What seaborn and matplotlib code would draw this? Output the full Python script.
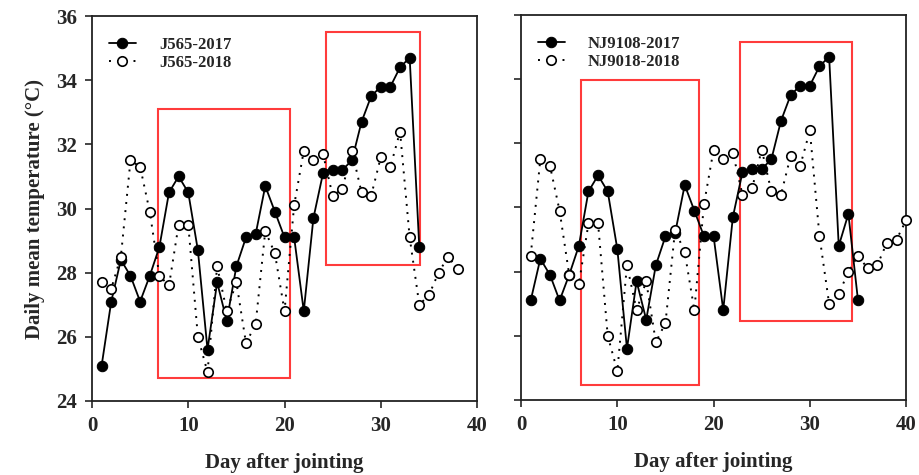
import matplotlib
matplotlib.use("Agg")
import matplotlib.pyplot as plt
from matplotlib.patches import Rectangle
import numpy as np
import seaborn as sns

# values
j565_2017 = [25.1, 27.1, 28.4, 27.9, 27.1, 27.9, 28.8, 30.5, 31.0, 30.5, 28.7, 25.6,
             27.7, 26.5, 28.2, 29.1, 29.2, 30.7, 29.9, 29.1, 29.1, 26.8, 29.7, 31.1,
             31.2, 31.2, 31.5, 32.7, 33.5, 33.8, 33.8, 34.4, 34.7, 28.8]
j565_2018 = [27.7, 27.5, 28.5, 31.5, 31.3, 29.9, 27.9, 27.6, 29.5, 29.5, 26.0, 24.9,
             28.2, 26.8, 27.7, 25.8, 26.4, 29.3, 28.6, 26.8, 30.1, 31.8, 31.5, 31.7,
             30.4, 30.6, 31.8, 30.5, 30.4, 31.6, 31.3, 32.4, 29.1, 27.0, 27.3, 28.0,
             28.5, 28.1]
nj9108_2017 = [27.1, 28.4, 27.9, 27.1, 27.9, 28.8, 30.5, 31.0, 30.5, 28.7, 25.6, 27.7,
               26.5, 28.2, 29.1, 29.2, 30.7, 29.9, 29.1, 29.1, 26.8, 29.7, 31.1, 31.2,
               31.2, 31.5, 32.7, 33.5, 33.8, 33.8, 34.4, 34.7, 28.8, 29.8, 27.1]
nj9018_2018 = [28.5, 31.5, 31.3, 29.9, 27.9, 27.6, 29.5, 29.5, 26.0, 24.9, 28.2, 26.8,
               27.7, 25.8, 26.4, 29.3, 28.6, 26.8, 30.1, 31.8, 31.5, 31.7, 30.4, 30.6,
               31.8, 30.5, 30.4, 31.6, 31.3, 32.4, 29.1, 27.0, 27.3, 28.0, 28.5, 28.1,
               28.2, 28.9, 29.0, 29.6]

# highlighted windows: (x0, x1, y0, y1)
boxes_left = [(6.9, 20.6, 24.73, 33.1), (24.3, 34.1, 28.23, 35.5)]
boxes_right = [(6.2, 18.5, 24.48, 33.97), (22.7, 34.4, 26.47, 35.16)]

sns.set_style("ticks")
plt.rcParams["font.family"] = ["Liberation Serif", "DejaVu Serif"]
plt.rcParams["font.weight"] = "bold"

fig = plt.figure(figsize=(9.19, 4.75), dpi=100)
ax1 = fig.add_axes([0.1001, 0.1558, 0.419, 0.8105])
ax2 = fig.add_axes([0.567, 0.158, 0.419, 0.8105])


def draw(ax, s17, s18, lab17, lab18, boxes):
    d17 = np.arange(1, len(s17) + 1)
    d18 = np.arange(1, len(s18) + 1)
    sns.lineplot(x=d17, y=s17, ax=ax, color="black", lw=1.3, marker="o",
                 markersize=7.5, markerfacecolor="black", markeredgecolor="black",
                 label=lab17, zorder=3, clip_on=False)
    sns.lineplot(x=d18, y=s18, ax=ax, color="black", lw=1.4, ls=(0, (1, 3.2)),
                 marker="o", markersize=6.8, markerfacecolor="white",
                 markeredgecolor="black", markeredgewidth=1.2, label=lab18,
                 zorder=4, clip_on=False)
    for x0, x1, y0, y1 in boxes:
        ax.add_patch(Rectangle((x0, y0), x1 - x0, y1 - y0, fill=False,
                               edgecolor="#ff3b3b", lw=1.5, zorder=2))
    ax.set_xlim(0, 40)
    ax.set_ylim(24, 36)
    ax.set_xticks([0, 10, 20, 30, 40])
    ax.set_yticks(range(24, 37, 2))
    ax.tick_params(direction="out", length=5, width=1.2, labelsize=15, pad=6)
    for s in ax.spines.values():
        s.set_linewidth(1.3)
        s.set_color("#222222")
    ax.set_xlabel("Day after jointing", fontsize=15, fontweight="bold", labelpad=12)
    leg = ax.legend(loc="upper left", bbox_to_anchor=(0.005, 0.985), frameon=False,
                    handlelength=1.6, handletextpad=1.4, labelspacing=0.15,
                    prop={"weight": "bold", "size": 12})
    return leg


draw(ax1, j565_2017, j565_2018, "J565-2017", "J565-2018", boxes_left)
draw(ax2, nj9108_2017, nj9018_2018, "NJ9108-2017", "NJ9018-2018", boxes_right)

ax1.set_ylabel("Daily mean temperature (\u00b0C)", fontsize=15, fontweight="bold",
               labelpad=8)
ax2.set_ylabel("")
ax2.tick_params(axis="y", labelleft=False)

fig.savefig("out.png", dpi=100)
